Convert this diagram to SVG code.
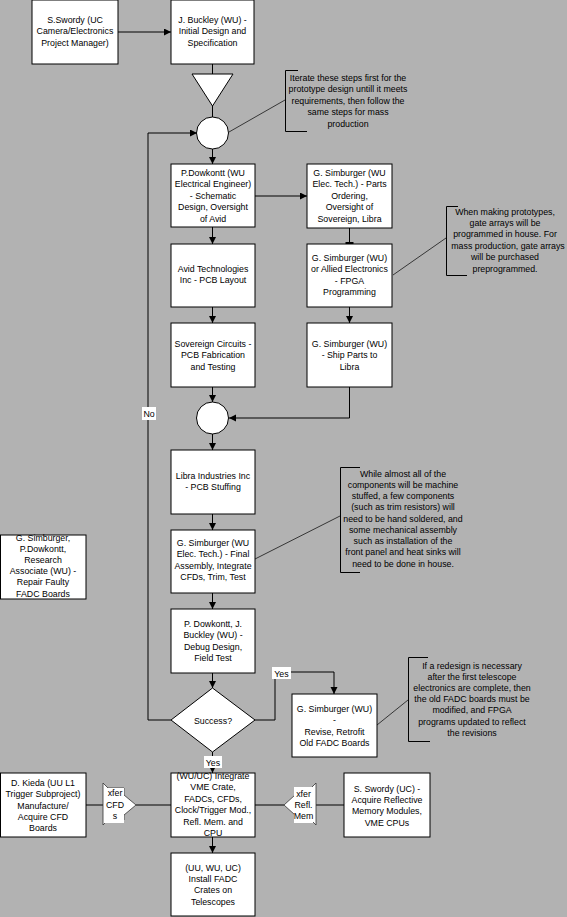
<svg xmlns="http://www.w3.org/2000/svg" width="567" height="917" viewBox="0 0 567 917">
<style>
.bg{fill:#b2b2b2}
.box{fill:#fff;stroke:#000;stroke-width:1}
.t{font-family:"Liberation Sans",Arial,sans-serif;font-size:8.8px;fill:#000;text-anchor:middle}
.ln{fill:none;stroke:#000;stroke-width:1}
.ar{fill:none;stroke:#000;stroke-width:1;marker-end:url(#ah)}
.thin{fill:none;stroke:#000;stroke-width:0.7}
.lbl{fill:#fff;stroke:none}
.xf{fill:#fff;stroke:#333;stroke-width:0.8}
</style>
<defs>
<marker id="ah" markerUnits="userSpaceOnUse" markerWidth="8" markerHeight="8" refX="7" refY="3.5" orient="auto">
<path d="M0,0 L7,3.5 L0,7 z" fill="#000"/>
</marker>
</defs>
<rect class="bg" x="0" y="0" width="567" height="917"/>

<g id="connectors">
<path class="ar" d="M118,32 L171,32"/>
<path class="ln" d="M212.5,64 L212.5,74"/>
<path class="ln" d="M212.5,106 L212.5,117"/>
<path class="ar" d="M212.5,149 L212.5,164"/>
<path class="ar" d="M255,196 L307,196"/>
<path class="ar" d="M212.5,227 L212.5,244"/>
<path class="ln" d="M349.5,228 L349.5,244"/>
<path class="ln" d="M345.5,243 L353.5,243" style="stroke-width:2"/>
<path class="ar" d="M212.5,307 L212.5,323"/>
<path class="ar" d="M349.5,307 L349.5,323"/>
<path class="ar" d="M212.5,387 L212.5,402"/>
<path class="ar" d="M349.5,387 L349.5,418 L229,418"/>
<path class="ar" d="M212.5,434 L212.5,450"/>
<path class="ar" d="M212.5,514 L212.5,530"/>
<path class="ar" d="M212.5,593 L212.5,609"/>
<path class="ar" d="M212.5,673 L212.5,688"/>
<path class="ar" d="M171,720 L148,720 L148,133 L197,133"/>
<path class="ar" d="M255,720 L275,720 L275,672 L334,672 L334,694"/>
<path class="ar" d="M212.5,752 L212.5,773"/>
<path class="ln" d="M86,805 L103,805"/>
<path class="ln" d="M136,805 L171,805"/>
<path class="ln" d="M255,805 L284,805"/>
<path class="ln" d="M316,805 L344,805"/>
<path class="ar" d="M212.5,837 L212.5,853"/>
<path class="thin" d="M229,132 L285,100"/>
<path class="thin" d="M393,275 L446,238"/>
<path class="thin" d="M255,559 L340,516"/>
<path class="thin" d="M377,725 L408,700"/>
</g>

<g id="n-swordy-top">
<rect class="box" x="32" y="0" width="86" height="64"/>
<text class="t"><tspan x="75" y="22.5">S.Swordy  (UC</tspan><tspan x="75" y="34">Camera/Electronics</tspan><tspan x="75" y="45.5">Project  Manager)</tspan></text>
</g>
<g id="n-buckley">
<rect class="box" x="171" y="0" width="83" height="64"/>
<text class="t"><tspan x="212.5" y="22.5">J. Buckley (WU)  -</tspan><tspan x="212.5" y="34">Initial Design and</tspan><tspan x="212.5" y="45.5">Specification</tspan></text>
</g>
<g id="n-merge">
<polygon class="box" points="192,74 233,74 212.5,106"/>
</g>
<g id="n-junction1">
<circle class="box" cx="212.5" cy="133" r="16"/>
</g>
<g id="n-note1">
<path class="ln" d="M298,70.5 L285.5,70.5 L285.5,131.5 L307,131.5"/>
<text class="t"><tspan x="348" y="80.5">Iterate these steps first for the</tspan><tspan x="348" y="92">prototype design untill it meets</tspan><tspan x="348" y="103.5">requirements, then follow the</tspan><tspan x="348" y="115">same steps for mass</tspan><tspan x="348" y="126.5">production</tspan></text>
</g>
<g id="n-dowkontt">
<rect class="box" x="171" y="164" width="84" height="63"/>
<text class="t"><tspan x="213" y="175.5">P.Dowkontt  (WU</tspan><tspan x="213" y="187">Electrical  Engineer)</tspan><tspan x="213" y="198.5">- Schematic</tspan><tspan x="213" y="210">Design, Oversight</tspan><tspan x="213" y="221.5">of Avid</tspan></text>
</g>
<g id="n-parts">
<rect class="box" x="307" y="164" width="85" height="64"/>
<text class="t"><tspan x="349.5" y="175.5">G. Simburger (WU</tspan><tspan x="349.5" y="187">Elec. Tech.) - Parts</tspan><tspan x="349.5" y="198.5">Ordering,</tspan><tspan x="349.5" y="210">Oversight of</tspan><tspan x="349.5" y="221.5">Sovereign, Libra</tspan></text>
</g>
<g id="n-avid">
<rect class="box" x="171" y="244" width="84" height="63"/>
<text class="t"><tspan x="213" y="271.5">Avid Technologies</tspan><tspan x="213" y="283">Inc - PCB Layout</tspan></text>
</g>
<g id="n-fpga">
<rect class="box" x="307" y="244" width="85" height="63"/>
<text class="t"><tspan x="349.5" y="260.5">G. Simburger (WU)</tspan><tspan x="349.5" y="272">or Allied Electronics</tspan><tspan x="349.5" y="283.5">- FPGA</tspan><tspan x="349.5" y="295">Programming</tspan></text>
</g>
<g id="n-note2">
<path class="ln" d="M458,206.5 L446.5,206.5 L446.5,275.5 L467,275.5"/>
<text class="t"><tspan x="505" y="214.5">When making prototypes,</tspan><tspan x="505" y="225.9">gate arrays will be</tspan><tspan x="505" y="237.3">programmed in house.  For</tspan><tspan x="508" y="248.7">mass production, gate arrays</tspan><tspan x="505" y="260.1">will be purchased</tspan><tspan x="505" y="271.5">preprogrammed.</tspan></text>
</g>
<g id="n-sovereign">
<rect class="box" x="171" y="323" width="84" height="64"/>
<text class="t"><tspan x="213" y="346.5">Sovereign Circuits -</tspan><tspan x="213" y="358">PCB Fabrication</tspan><tspan x="213" y="369.5">and Testing</tspan></text>
</g>
<g id="n-ship">
<rect class="box" x="307" y="323" width="85" height="64"/>
<text class="t"><tspan x="349.5" y="346.5">G. Simburger (WU)</tspan><tspan x="349.5" y="358">- Ship Parts to</tspan><tspan x="349.5" y="369.5">Libra</tspan></text>
</g>
<g id="n-junction2">
<circle class="box" cx="212.5" cy="418" r="16"/>
</g>
<g id="n-libra">
<rect class="box" x="171" y="450" width="84" height="64"/>
<text class="t"><tspan x="213" y="478.5">Libra Industries Inc</tspan><tspan x="213" y="490">- PCB Stuffing</tspan></text>
</g>
<g id="n-final">
<rect class="box" x="171" y="530" width="84" height="63"/>
<text class="t"><tspan x="213" y="545.5">G. Simburger (WU</tspan><tspan x="213" y="557">Elec. Tech.) - Final</tspan><tspan x="213" y="568.5">Assembly, Integrate</tspan><tspan x="213" y="580">CFDs, Trim, Test</tspan></text>
</g>
<g id="n-note3">
<path class="ln" d="M360,467.5 L340.5,467.5 L340.5,572.5 L360,572.5"/>
<text class="t"><tspan x="403" y="476.5">While almost all of the</tspan><tspan x="403" y="487.75">components will be machine</tspan><tspan x="403" y="499">stuffed, a few components</tspan><tspan x="403" y="510.25">(such as trim resistors) will</tspan><tspan x="403" y="521.5">need to be hand soldered, and</tspan><tspan x="403" y="532.75">some mechanical assembly</tspan><tspan x="403" y="544">such as installation of the</tspan><tspan x="403" y="555.25">front panel and heat sinks will</tspan><tspan x="403" y="566.5">need to be done in house.</tspan></text>
</g>
<g id="n-repair">
<rect class="box" x="0.5" y="535" width="85.5" height="64"/>
<text class="t"><tspan x="43" y="540.5">G. Simburger,</tspan><tspan x="43" y="551.7">P.Dowkontt,</tspan><tspan x="43" y="562.9">Research</tspan><tspan x="43" y="574.1">Associate (WU)  -</tspan><tspan x="43" y="585.3">Repair Faulty</tspan><tspan x="43" y="596.5">FADC Boards</tspan></text>
</g>
<g id="n-debug">
<rect class="box" x="171" y="609" width="84" height="64"/>
<text class="t"><tspan x="213" y="626.5">P. Dowkontt, J.</tspan><tspan x="213" y="638">Buckley (WU)  -</tspan><tspan x="213" y="649.5">Debug  Design,</tspan><tspan x="213" y="661">Field Test</tspan></text>
</g>
<g id="n-success">
<polygon class="box" points="212.5,688 255,720 212.5,752 171,720"/>
<text class="t" x="213" y="723.5">Success?</text>
</g>
<g id="n-revise">
<rect class="box" x="292" y="694" width="85" height="63"/>
<text class="t"><tspan x="334.5" y="712">G. Simburger (WU)</tspan><tspan x="334.5" y="723.3">-</tspan><tspan x="334.5" y="734.6">Revise, Retrofit</tspan><tspan x="334.5" y="745.9">Old FADC Boards</tspan></text>
</g>
<g id="n-note4">
<path class="ln" d="M428,657.5 L408.5,657.5 L408.5,741.5 L430,741.5"/>
<text class="t"><tspan x="472" y="668.5">If a redesign is necessary</tspan><tspan x="472" y="679.7">after the first telescope</tspan><tspan x="472" y="690.9">electronics are complete, then</tspan><tspan x="472" y="702.1">the old FADC boards must be</tspan><tspan x="472" y="713.3">modified, and FPGA</tspan><tspan x="472" y="724.5">programs updated to reflect</tspan><tspan x="472" y="735.7">the revisions</tspan></text>
</g>
<g id="n-integrate">
<rect class="box" x="171" y="773" width="84" height="64"/>
<text class="t"><tspan x="213" y="778.5">(WU/UC) Integrate</tspan><tspan x="213" y="790">VME Crate,</tspan><tspan x="213" y="801.5">FADCs, CFDs,</tspan><tspan x="213" y="813">Clock/Trigger Mod.,</tspan><tspan x="213" y="824.5">Refl. Mem. and</tspan><tspan x="213" y="835.5">CPU</tspan></text>
</g>
<g id="n-kieda">
<rect class="box" x="0.5" y="773" width="85.5" height="64"/>
<text class="t"><tspan x="43" y="785.5">D. Kieda (UU L1</tspan><tspan x="43" y="797">Trigger Subproject)</tspan><tspan x="43" y="808.5">Manufacture/</tspan><tspan x="43" y="820">Acquire CFD</tspan><tspan x="43" y="831">Boards</tspan></text>
</g>
<g id="n-swordy-bottom">
<rect class="box" x="344" y="773" width="86" height="64"/>
<text class="t"><tspan x="387" y="791.5">S. Swordy (UC) -</tspan><tspan x="387" y="803">Acquire  Reflective</tspan><tspan x="387" y="814">Memory Modules,</tspan><tspan x="387" y="825.5">VME CPUs</tspan></text>
</g>
<g id="n-xfer-cfds">
<polygon class="xf" points="103,783 108,788 124,788 124,795 136,805 124,815 124,820 108,820 103,825"/>
<rect class="lbl" x="105" y="788" width="19" height="35"/>
<text class="t"><tspan x="115" y="796">xfer</tspan><tspan x="115" y="807.5">CFD</tspan><tspan x="115" y="819">s</tspan></text>
</g>
<g id="n-xfer-refl">
<polygon class="xf" points="316,783 311,788 295,788 295,795 284,805 295,815 295,820 311,820 316,825"/>
<rect class="lbl" x="294" y="787" width="19" height="36"/>
<text class="t"><tspan x="303.5" y="797">xfer</tspan><tspan x="303.5" y="808">Refl.</tspan><tspan x="303.5" y="819">Mem</tspan></text>
</g>
<g id="n-install">
<rect class="box" x="171" y="853" width="84" height="63"/>
<text class="t"><tspan x="213" y="870.5">(UU, WU, UC)</tspan><tspan x="213" y="882">Install  FADC</tspan><tspan x="213" y="893">Crates on</tspan><tspan x="213" y="904.5">Telescopes</tspan></text>
</g>

<g id="labels">
<rect class="lbl" x="142" y="407" width="14" height="13"/>
<text class="t" x="149" y="417">No</text>
<rect class="lbl" x="272" y="667" width="19" height="12"/>
<text class="t" x="281.5" y="676.5">Yes</text>
<rect class="lbl" x="204" y="756" width="18" height="12"/>
<text class="t" x="213" y="765.5">Yes</text>
</g>
</svg>
